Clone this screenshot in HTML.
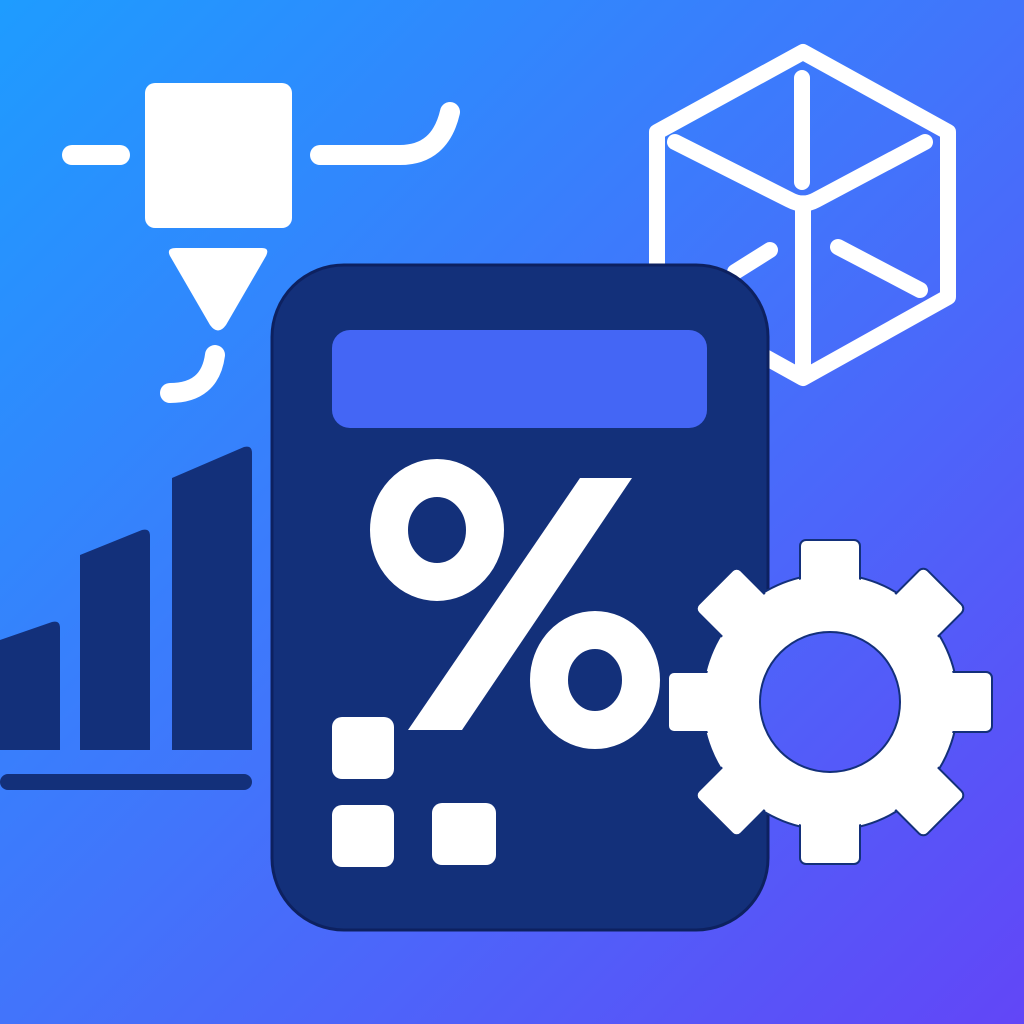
<!DOCTYPE html>
<html><head><meta charset="utf-8"><style>html,body{margin:0;padding:0;width:1024px;height:1024px;overflow:hidden}</style></head>
<body>
<svg width="1024" height="1024" viewBox="0 0 1024 1024" xmlns="http://www.w3.org/2000/svg">
<defs>
<linearGradient id="bg" x1="0" y1="0" x2="1024" y2="1024" gradientUnits="userSpaceOnUse">
<stop offset="0" stop-color="#1e9cff"/>
<stop offset="0.5" stop-color="#4274fb"/>
<stop offset="1" stop-color="#6246f7"/>
</linearGradient>
</defs>
<rect width="1024" height="1024" fill="url(#bg)"/>

<!-- printer -->
<g fill="none" stroke="#fff" stroke-width="20" stroke-linecap="round">
<line x1="72" y1="155" x2="120" y2="155"/>
<path d="M320 155 H400 Q440 155 450 112"/>
<path d="M215 355 Q210 393 170 393"/>
</g>
<rect x="145" y="83" width="147" height="145" rx="10" fill="#fff"/>
<path d="M176 248 H262 Q270 248 266 256 L226 325 Q218 336 210 325 L170 256 Q166 248 176 248Z" fill="#fff"/>

<!-- cube -->
<g fill="none" stroke="#fff" stroke-width="16" stroke-linecap="round" stroke-linejoin="round">
<path d="M803 52 L948 132 L948 297 L803 378 L657 297 L657 132 Z"/>
<path d="M675 142 L790 200 Q803 207 816 200 L925 142"/>
<path d="M803 210 V372"/>
<line x1="802" y1="78" x2="802" y2="182"/>
<line x1="838" y1="247" x2="920" y2="290"/>
<line x1="770" y1="250" x2="735" y2="272"/>
</g>

<!-- bars -->
<g fill="#13307a">
<path d="M0 640 L52 622 Q60 620 60 628 V750 H0Z"/>
<path d="M80 555 L142 530 Q150 528 150 536 V750 H80Z"/>
<path d="M172 478 L244 447 Q252 445 252 453 V750 H172Z"/>
<rect x="0" y="774" width="252" height="16" rx="8"/>
</g>

<!-- calculator -->
<rect x="272" y="265" width="496" height="665" rx="72" fill="#13307a" stroke="#0d2160" stroke-width="3"/>
<rect x="332" y="330" width="375" height="98" rx="18" fill="#4466f5"/>
<g fill="none" stroke="#fff" stroke-width="38">
<ellipse cx="437" cy="530" rx="48" ry="52"/>
<ellipse cx="595" cy="680" rx="46" ry="50"/>
</g>
<polygon points="408,730 462,730 632,478 580,478" fill="#fff"/>
<rect x="332" y="717" width="62" height="62" rx="10" fill="#fff"/>
<rect x="332" y="805" width="62" height="62" rx="10" fill="#fff"/>
<rect x="432" y="803" width="64" height="62" rx="10" fill="#fff"/>

<!-- gear -->
<g fill="#fff" stroke="#13307a" stroke-width="2">
<g transform="translate(830,702)">
<circle r="128"/>
<rect x="-30" y="-162" width="60" height="70" rx="6" transform="rotate(0)"/>
<rect x="-30" y="-162" width="60" height="70" rx="6" transform="rotate(45)"/>
<rect x="-30" y="-162" width="60" height="70" rx="6" transform="rotate(90)"/>
<rect x="-30" y="-162" width="60" height="70" rx="6" transform="rotate(135)"/>
<rect x="-30" y="-162" width="60" height="70" rx="6" transform="rotate(180)"/>
<rect x="-30" y="-162" width="60" height="70" rx="6" transform="rotate(225)"/>
<rect x="-30" y="-162" width="60" height="70" rx="6" transform="rotate(270)"/>
<rect x="-30" y="-162" width="60" height="70" rx="6" transform="rotate(315)"/>
<circle r="126" stroke="none"/>
</g>
</g>
<circle cx="830" cy="702" r="70" fill="url(#bg)" stroke="#13307a" stroke-width="2"/>
</svg>
</body></html>
